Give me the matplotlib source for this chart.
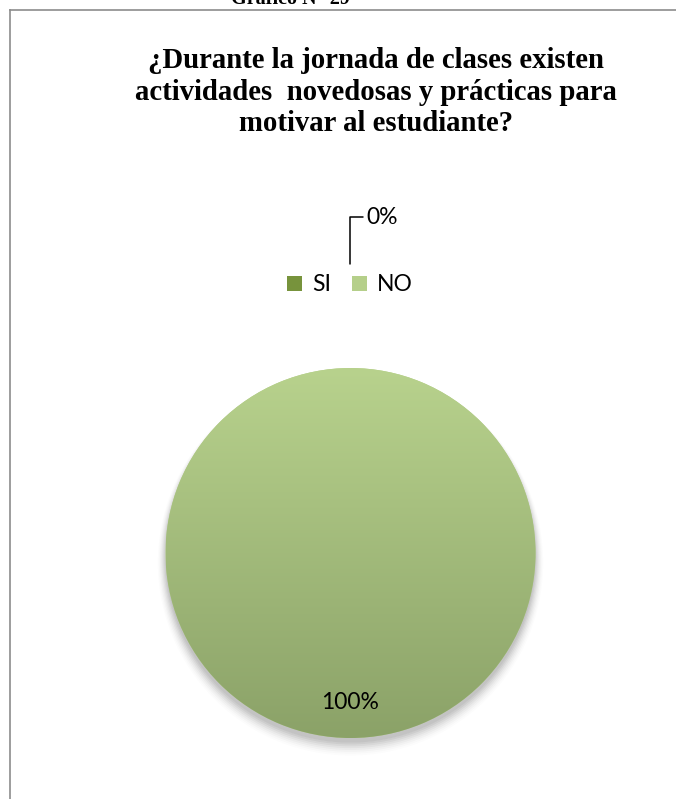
import matplotlib.pyplot as plt
import matplotlib.colors as mcolors
import numpy as np
from matplotlib.patches import Circle

labels = ["SI", "NO"]
values = [0, 100]
title = "¿Durante la jornada de clases existen\nactividades  novedosas y prácticas para\nmotivar al estudiante?"
header = "Gráfico N° 29"

W, H = 676, 799
fig = plt.figure(figsize=(W / 100, H / 100), dpi=100)
fig.patch.set_facecolor("white")

# page border (left and top lines of the chart box)
fig.add_artist(plt.Line2D([10 / W, 10 / W], [0, 1 - 10 / H], color="#8c8c8c", lw=1.2))
fig.add_artist(plt.Line2D([10 / W, 1], [1 - 10 / H, 1 - 10 / H], color="#8c8c8c", lw=1.2))

# header of the page, cut off at the top like in the source
fig.text(290 / W, 1 - 4 / H, header, ha="center", va="baseline",
         family="Liberation Serif", weight="bold", fontsize=14.5)

fig.text(376 / W, 1 - 92 / H, title, ha="center", va="center",
         family="Liberation Serif", weight="bold", fontsize=20.7, linespacing=1.2)

# pie axes
cx, cy, r = 350.5, 553, 185
ax = fig.add_axes([(cx - r) / W, (H - cy - r) / H, 2 * r / W, 2 * r / H])

# soft shadow
for i, a in enumerate(np.linspace(0.05, 0.012, 8)):
    ax.add_patch(Circle((0, -0.025 - i * 0.004), 1.0 + i * 0.006, color="black",
                        alpha=a, lw=0, clip_on=False, zorder=0))

wedges, _ = ax.pie(values, startangle=90, counterclock=False,
                   colors=["#77933c", "#b5cf8a"], radius=1.0,
                   wedgeprops=dict(lw=0))
for w in wedges:
    w.set_zorder(1)

grad = mcolors.LinearSegmentedColormap.from_list("g", ["#8ba268", "#b8d28d"])
big = max(wedges, key=lambda w: w.theta2 - w.theta1)
img = ax.imshow(np.linspace(0, 1, 256).reshape(-1, 1), cmap=grad, origin="lower",
                extent=[-1, 1, -1, 1], aspect="auto", zorder=2)
img.set_clip_path(big)
ax.set_xlim(-1, 1)
ax.set_ylim(-1, 1)
ax.axis("off")

total = sum(values)
lab_font = dict(family=["Lato", "DejaVu Sans"], fontsize=16.5, color="black")
for v in values:
    pct = f"{v / total * 100:.0f}%"
    if v == 100:
        ax.text(0, -0.81, pct, ha="center", va="center", zorder=3, **lab_font)
    else:
        # label for empty slice, with leader line from top of pie
        ax.annotate(pct, xy=(-0.005, 1.56), xytext=(0.085, 1.815), textcoords="data",
                    ha="left", va="center", annotation_clip=False, zorder=3,
                    arrowprops=dict(arrowstyle="-", color="black", lw=1.1,
                                    connectionstyle="angle,angleA=0,angleB=90,rad=0",
                                    shrinkA=0, shrinkB=0),
                    **lab_font)

# legend
leg = fig.legend(wedges, labels, loc="center", bbox_to_anchor=(350 / W, 1 - 285 / H),
                 ncol=2, frameon=False, prop=dict(family="Lato", size=16.5),
                 handlelength=0.65, handleheight=0.65, handletextpad=0.45, columnspacing=0.9)

fig.savefig("out.png", dpi=100)
